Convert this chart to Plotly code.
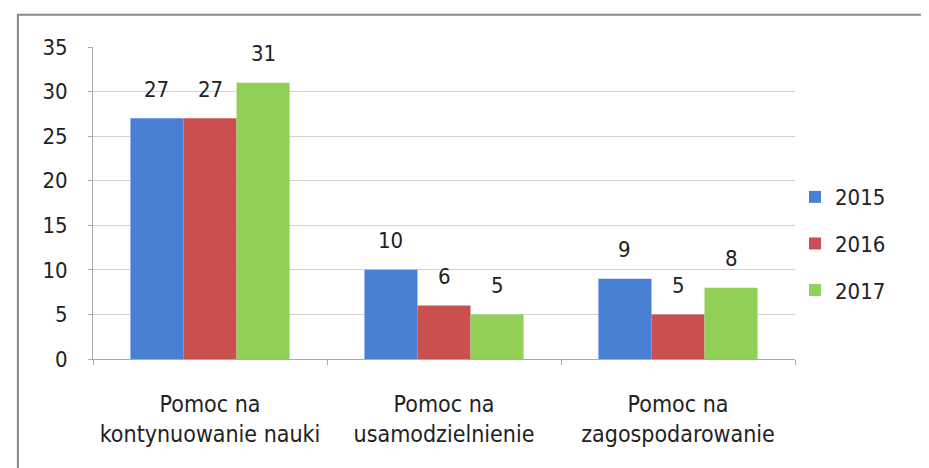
import plotly.graph_objects as go

categories = ["Pomoc na<br>kontynuowanie nauki", "Pomoc na<br>usamodzielnienie", "Pomoc na<br>zagospodarowanie"]
years = ["2015", "2016", "2017"]
values_2015 = [27, 10, 9]
values_2016 = [27, 6, 5]
values_2017 = [31, 5, 8]
colors = ["#4a80d4", "#c9504f", "#92cf57"]

FONT = "DejaVu Sans Condensed, Liberation Sans Narrow, sans-serif"
BARGAP = 0.32

series = [values_2015, values_2016, values_2017]
fig = go.Figure()
for name, vals, col in zip(years, series, colors):
    fig.add_trace(go.Bar(
        x=categories, y=vals, name=name, legendgroup=name,
        marker=dict(color=col, line=dict(width=0)),
    ))

# value labels above bars, placed via data coordinates of each grouped bar
n = len(series)
bw = (1 - BARGAP) / n
annotations = []
for j, vals in enumerate(series):
    for i, v in enumerate(vals):
        annotations.append(dict(
            x=i + (j - (n - 1) / 2) * bw, y=v, xref="x", yref="y",
            text=str(v), showarrow=False, yanchor="middle", yshift=29,
            font=dict(size=22, color="#222", family=FONT)))

fig.update_layout(
    width=929, height=468,
    margin=dict(l=85, r=142, t=39, b=117),
    paper_bgcolor="white", plot_bgcolor="white",
    barmode="group", bargap=BARGAP, bargroupgap=0,
    font=dict(family=FONT, size=20, color="#222"),
    legend=dict(x=1.0, y=0.37, xanchor="left", yanchor="middle",
                font=dict(size=22, family=FONT), tracegroupgap=15,
                itemwidth=30),
    showlegend=True,
    annotations=annotations,
    shapes=[dict(type="rect", xref="paper", yref="paper",
                 x0=-0.107, x1=1.4, y0=-0.6, y1=1.103,
                 line=dict(color="#888", width=2))],
)
fig.update_yaxes(range=[0, 35], dtick=5, showgrid=True, gridcolor="#d2d2d2", gridwidth=1,
                 showline=True, linecolor="#aaa", ticks="outside", ticklen=4, tickcolor="#aaa",
                 tickfont=dict(size=22, family=FONT), zeroline=False, ticklabelstandoff=16)
fig.update_xaxes(showline=True, linecolor="#aaa", ticks="outside", tickson="boundaries",
                 ticklen=5, tickcolor="#aaa", tickfont=dict(size=23, family=FONT),
                 ticklabelstandoff=24)

fig.write_html("out.html")
